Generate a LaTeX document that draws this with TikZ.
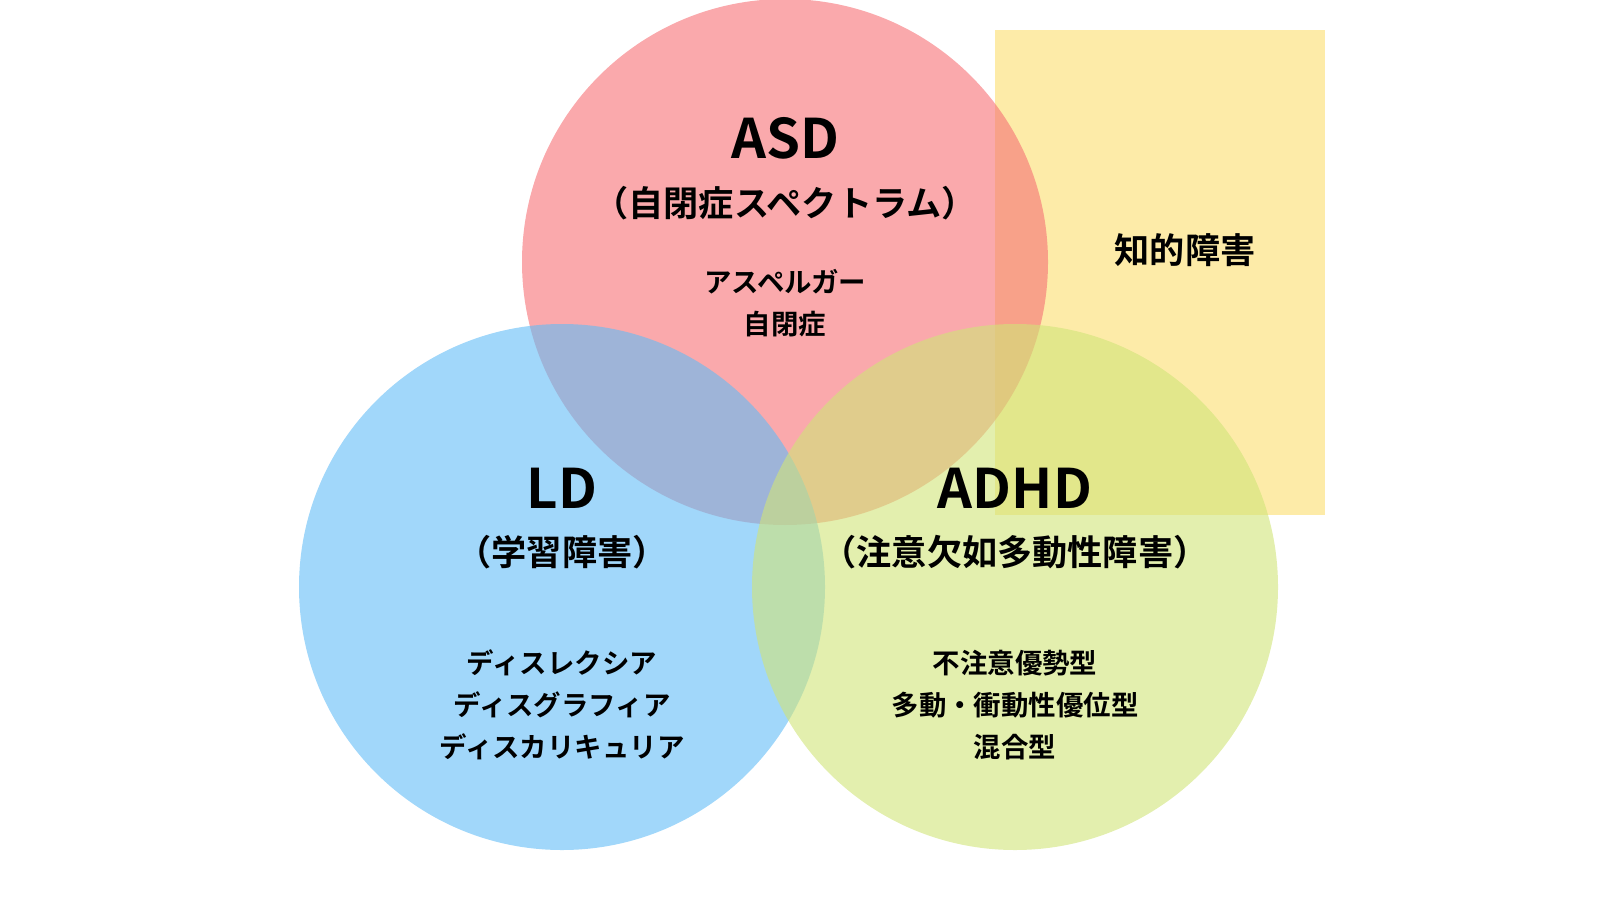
\documentclass[tikz,border=0pt]{standalone}
\usepackage{fontspec}
\setmainfont{Noto Sans CJK JP}[BoldFont=* Bold]
\definecolor{myred}{RGB}{246,112,116}
\definecolor{myblue}{RGB}{98,188,246}
\definecolor{mygreen}{RGB}{208,228,120}
\definecolor{myyellow}{RGB}{252,222,110}
\usetikzlibrary{positioning}

\begin{document}
\begin{tikzpicture}[
  x=0.01cm, y=-0.01cm,
  circ/.style={fill=#1, fill opacity=0.6, draw=none},
  title/.style={font=\bfseries\fontsize{15.5}{18}\selectfont},
  sub/.style={font=\bfseries\fontsize{10}{13}\selectfont},
  items/.style={font=\bfseries\fontsize{7.8}{12}\selectfont, align=center}
]
\useasboundingbox (0,0) rectangle (1600,900);

% shapes
\fill[myyellow, fill opacity=0.6] (995,30) rectangle (1325,515);
\fill[circ=myred] (785,262) circle (263);
\fill[circ=myblue] (562,587) circle (263);
\fill[circ=mygreen] (1015,587) circle (263);

% ASD
\node[title] (asd) at (785,138) {ASD};
\node[sub] (asdsub) at (785,203) {（自閉症スペクトラム）};
\node[items] (asdlist) at (785,303) {アスペルガー\\自閉症};

% LD
\node[title] (ld) at (562,488) {LD};
\node[sub] (ldsub) at (562,552) {（学習障害）};
\node[items] (ldlist) at (562,705) {ディスレクシア\\ディスグラフィア\\ディスカリキュリア};

% ADHD
\node[title] (adhd) at (1015,488) {ADHD};
\node[sub] (adhdsub) at (1015,552) {（注意欠如多動性障害）};
\node[items] (adhdlist) at (1015,705) {不注意優勢型\\多動・衝動性優位型\\混合型};

% intellectual
\node[sub] (id) at (1185,250) {知的障害};
\end{tikzpicture}
\end{document}
